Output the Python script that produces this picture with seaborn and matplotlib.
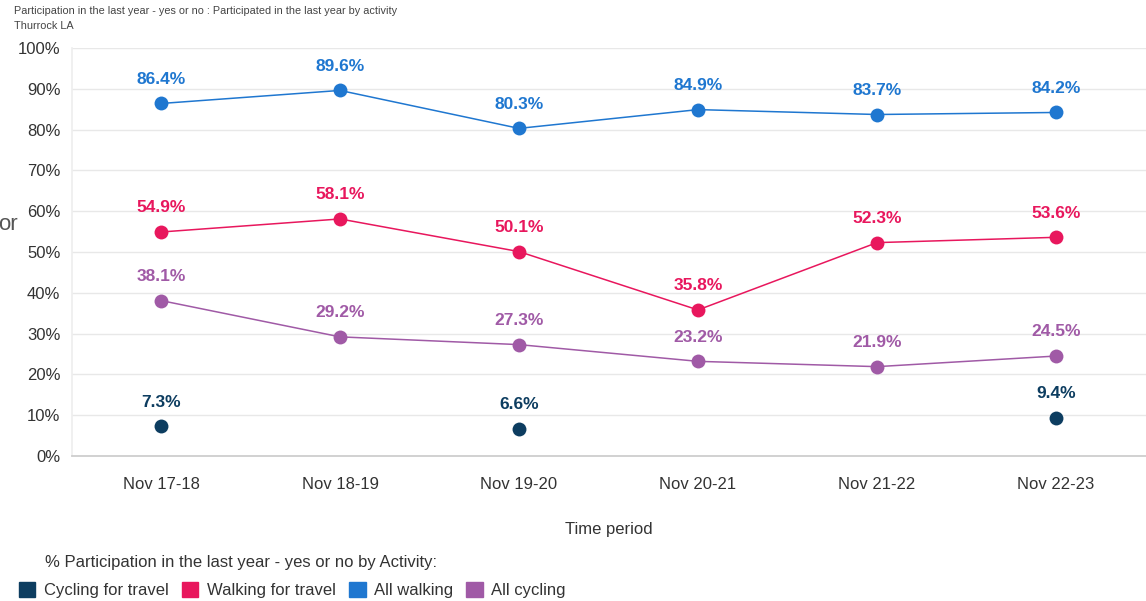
import matplotlib
matplotlib.use("Agg")
import matplotlib.pyplot as plt
import matplotlib.patches as mpatches
import seaborn as sns
import pandas as pd
import numpy as np

periods = ["Nov 17-18", "Nov 18-19", "Nov 19-20", "Nov 20-21", "Nov 21-22", "Nov 22-23"]
cycling_travel = [7.3, np.nan, 6.6, np.nan, np.nan, 9.4]
walking_travel = [54.9, 58.1, 50.1, 35.8, 52.3, 53.6]
all_walking = [86.4, 89.6, 80.3, 84.9, 83.7, 84.2]
all_cycling = [38.1, 29.2, 27.3, 23.2, 21.9, 24.5]

series_names = ["Cycling for travel", "Walking for travel", "All walking", "All cycling"]
colors = {"Cycling for travel": "#0d3d60", "Walking for travel": "#e8175d",
          "All walking": "#1f77d0", "All cycling": "#a05aa6"}

sns.set_theme(style="white")
plt.rcParams['font.family'] = ['Liberation Sans', 'DejaVu Sans']

fig = plt.figure(figsize=(11.46, 6.01), dpi=100)
W, H = 1146, 601
ax = fig.add_axes([71.5 / W, 1 - 456 / H, (1145.5 - 71.5) / W, (456 - 48) / H])

rows = []
for name, vals in zip(series_names, [cycling_travel, walking_travel, all_walking, all_cycling]):
    for p, v in zip(periods, vals):
        rows.append({"period": p, "value": v, "series": name})
df = pd.DataFrame(rows)
df["period"] = pd.Categorical(df["period"], categories=periods, ordered=True)

line_df = df[df["series"] != "Cycling for travel"]
sns.lineplot(data=line_df, x="period", y="value", hue="series",
             palette=colors, linewidth=1.1, marker="o", markersize=10,
             markeredgewidth=0, legend=False, ax=ax, sort=False)
pt_df = df[(df["series"] == "Cycling for travel") & df["value"].notna()]
sns.scatterplot(data=pt_df, x="period", y="value", color=colors["Cycling for travel"],
                s=100, linewidth=0, legend=False, ax=ax)

for _, r in df.dropna().iterrows():
    xi = periods.index(r["period"])
    ax.annotate(f"{r['value']:.1f}%", (xi, r["value"]), xytext=(0, 12),
                textcoords="offset points", ha="center", va="bottom",
                fontsize=12.5, fontweight="bold", color=colors[r["series"]])

ax.set_xlim(-0.5, 5.5)
ax.set_ylim(0, 100)
ax.set_yticks(range(0, 101, 10))
ax.set_yticklabels([f"{v}%" for v in range(0, 101, 10)])
ax.set_xticks(range(len(periods)))
ax.set_xticklabels(periods)
ax.grid(axis="y", color="#e8e8e8", linewidth=1)
ax.set_axisbelow(True)
for s in ["top", "right"]:
    ax.spines[s].set_visible(False)
ax.spines["left"].set_color("#eeeeee")
ax.spines["bottom"].set_color("#cccccc")
ax.tick_params(axis="y", length=0, pad=8, labelsize=12, labelcolor="#333333")
ax.tick_params(axis="x", length=6, color="#e0e0e0", pad=9, labelsize=12, labelcolor="#333333")
ax.set_xlabel("Time period", fontsize=12, color="#333333", labelpad=22)
ax.set_ylabel("")

fig.text(14 / W, 1 - 11 / H, "Participation in the last year - yes or no : Participated in the last year by activity",
         fontsize=7.8, color="#444444", va="center", ha="left")
fig.text(14 / W, 1 - 26 / H, "Thurrock LA", fontsize=7.8, color="#444444", va="center", ha="left")
fig.text(-2 / W, 1 - 225 / H, "or", fontsize=16, color="#555555", va="center", ha="left")

fig.text(45 / W, 1 - 562 / H, "% Participation in the last year - yes or no by Activity:",
         fontsize=12, color="#333333", va="center", ha="left")
handles = [mpatches.Patch(color=colors[n], label=n) for n in series_names]
leg = fig.legend(handles=handles, loc="center left", bbox_to_anchor=(12 / W, 1 - 590 / H),
                 ncol=4, frameon=False, fontsize=12, handlelength=1.0, handleheight=1.0,
                 handletextpad=0.5, columnspacing=0.8, borderaxespad=0)
for t in leg.get_texts():
    t.set_color("#333333")

fig.savefig("out.png", dpi=100)
